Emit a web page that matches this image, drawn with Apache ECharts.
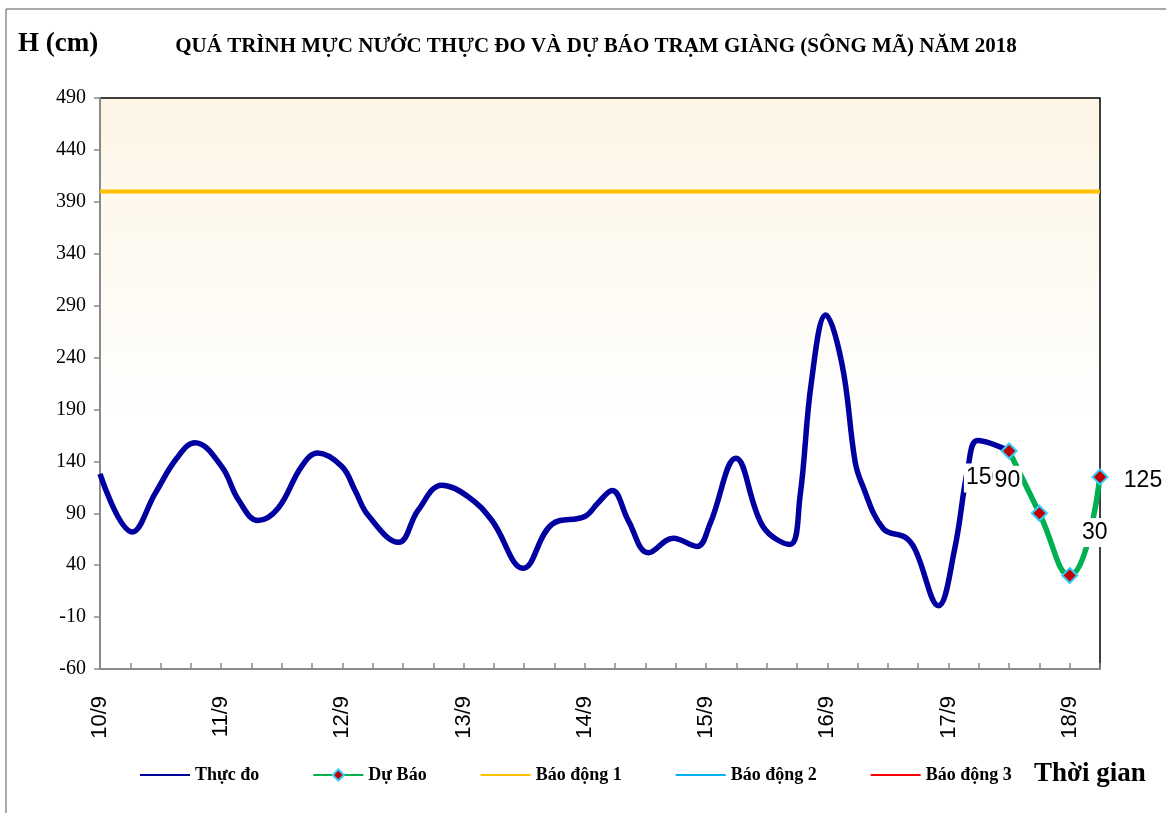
<!DOCTYPE html>
<html>
<head>
<meta charset="utf-8">
<script src="https://cdn.jsdelivr.net/npm/echarts@6/dist/echarts.min.js"></script>
<style>
  html, body { margin: 0; padding: 0; background: #fff; }
  #main { width: 1166px; height: 813px; }
</style>
</head>
<body>
<div id="main"></div>
<script>
// nhãn ngày trên trục hoành (mỗi 24 giờ)
var dayLabels = ['10/9', '11/9', '12/9', '13/9', '14/9', '15/9', '16/9', '17/9', '18/9'];

// mực nước thực đo: [giờ kể từ 0h 10/9, H (cm)]
var thucDo = [
  [0, 128], [6.4, 72], [10.9, 109], [15.2, 143], [18.8, 158], [24.1, 135],
  [27.4, 103], [31.3, 83], [35.3, 95], [39.9, 135], [43.1, 148], [47.9, 135],
  [50.5, 112], [53.1, 88], [59.1, 62], [63.0, 93], [67.7, 117], [72.9, 106],
  [77.6, 83], [83.8, 37], [89.4, 79], [96.0, 87], [98.6, 100], [101.4, 112],
  [104.6, 83], [108.6, 52], [113.5, 66], [118.2, 58], [120.8, 80], [125.9, 143],
  [131.3, 77], [136.6, 60], [138.6, 106], [140.9, 218], [143.7, 281], [146.9, 234],
  [149.5, 140], [150.8, 119], [155.1, 75], [159.4, 67], [161.4, 55], [166.0, 1],
  [169.2, 55], [171.9, 135], [173.8, 160], [180, 150]
];

// dự báo mỗi 6 giờ
var duBaoHours = [180, 186, 192, 198];
var duBaoValues = [150, 90, 30, 125];

// mức báo động
var baoDong1 = 400;

var chart = echarts.init(document.getElementById('main'));

var labelOffsets = [[-24, 27], [-32, -33], [25, -43], [43, 4]];
var duBaoData = duBaoValues.map(function (v, i) {
  return {
    value: [duBaoHours[i], v],
    label: { offset: labelOffsets[i] }
  };
});

var serif = 'Liberation Serif, Times New Roman, serif';
var sans = 'Liberation Sans, Arial, sans-serif';
var noSymbol = { opacity: 0 };

chart.setOption({
  animation: false,
  backgroundColor: '#fff',
  title: {
    text: 'QUÁ TRÌNH MỰC NƯỚC THỰC ĐO VÀ DỰ BÁO TRẠM GIÀNG (SÔNG MÃ) NĂM 2018',
    left: 591,
    textAlign: 'center',
    top: 31,
    textStyle: { fontFamily: serif, fontWeight: 'bold', fontSize: 21, color: '#000' }
  },
  graphic: [
    { type: 'line', shape: { x1: 6, y1: 9, x2: 1166, y2: 9 }, style: { stroke: '#8c8c8c', lineWidth: 1.5 } },
    { type: 'line', shape: { x1: 6, y1: 9, x2: 6, y2: 813 }, style: { stroke: '#8c8c8c', lineWidth: 1.5 } },
    { type: 'text', left: 18, top: 31, style: { text: 'H (cm)', font: 'bold 27px ' + serif, fill: '#000' } },
    { type: 'text', left: 1034, top: 761, style: { text: 'Thời gian', font: 'bold 27px ' + serif, fill: '#000' } }
  ],
  legend: {
    left: 139,
    top: 766,
    padding: 0,
    itemWidth: 50,
    itemHeight: 14,
    itemGap: 53,
    textStyle: { fontFamily: serif, fontWeight: 'bold', fontSize: 18, color: '#000' },
    data: [
      { name: 'Thực đo', itemStyle: noSymbol },
      { name: 'Dự Báo' },
      { name: 'Báo động 1', itemStyle: noSymbol },
      { name: 'Báo động 2', itemStyle: noSymbol },
      { name: 'Báo động 3', itemStyle: noSymbol }
    ]
  },
  grid: {
    left: 100, right: 66, top: 98, bottom: 144,
    show: true,
    borderColor: '#000',
    borderWidth: 1.5,
    backgroundColor: {
      type: 'linear', x: 0, y: 0, x2: 0, y2: 1,
      colorStops: [
        { offset: 0, color: '#fdf5e6' },
        { offset: 0.3, color: '#fefaf2' },
        { offset: 0.55, color: '#ffffff' },
        { offset: 1, color: '#ffffff' }
      ]
    }
  },
  xAxis: {
    type: 'value',
    min: 0,
    max: 198,
    interval: 6,
    axisLine: { onZero: false, lineStyle: { color: '#8a8a8a', width: 2 } },
    axisTick: { inside: true, length: 6, lineStyle: { color: '#8a8a8a', width: 1.5 } },
    splitLine: { show: false },
    axisLabel: {
      rotate: 90,
      margin: 27,
      fontFamily: sans,
      fontSize: 22,
      color: '#000',
      formatter: function (v) {
        return v % 24 === 0 ? dayLabels[v / 24] : '';
      }
    }
  },
  yAxis: {
    type: 'value',
    min: -60,
    max: 490,
    interval: 50,
    axisLine: { show: true, lineStyle: { color: '#8a8a8a', width: 2 } },
    axisTick: { show: true, length: 6, lineStyle: { color: '#8a8a8a', width: 1.5 } },
    splitLine: { show: false },
    axisLabel: { fontFamily: serif, fontSize: 20, color: '#000', margin: 14 }
  },
  series: [
    {
      name: 'Báo động 1',
      type: 'line',
      symbol: 'none',
      color: '#ffc000',
      lineStyle: { color: '#ffc000', width: 4 },
      data: [[0, baoDong1], [198, baoDong1]],
      z: 2
    },
    {
      name: 'Thực đo',
      type: 'line',
      symbol: 'none',
      smooth: 0.4,
      color: '#0000a0',
      lineStyle: { color: '#0000a0', width: 5.5 },
      data: thucDo,
      z: 3
    },
    {
      name: 'Dự Báo',
      type: 'line',
      smooth: 0.5,
      symbol: 'diamond',
      symbolSize: 15,
      color: '#c00000',
      itemStyle: { color: '#c00000', borderColor: '#33ccff', borderWidth: 2 },
      lineStyle: { color: '#00b050', width: 5.5 },
      label: {
        show: true,
        position: 'inside',
        fontFamily: sans,
        fontSize: 23,
        color: '#000',
        backgroundColor: '#fff',
        padding: [3, 2]
      },
      data: duBaoData,
      z: 4
    },
    {
      name: 'Báo động 2',
      type: 'line',
      symbol: 'none',
      color: '#00b0f0',
      lineStyle: { color: '#00b0f0', width: 3 },
      data: []
    },
    {
      name: 'Báo động 3',
      type: 'line',
      symbol: 'none',
      color: '#ff0000',
      lineStyle: { color: '#ff0000', width: 3 },
      data: []
    }
  ]
});
</script>
</body>
</html>
